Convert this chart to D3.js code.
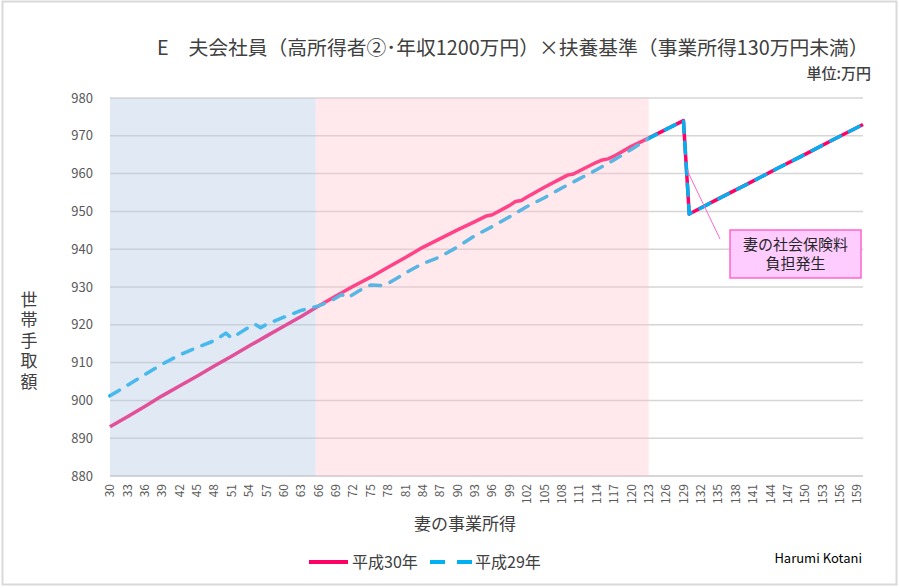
<!DOCTYPE html>
<html>
<head>
<meta charset="utf-8">
<script src="https://cdn.jsdelivr.net/npm/d3@7"></script>
<style>
  body { margin: 0; background: #fff; }
  text { font-family: "Noto Sans CJK JP", "Noto Sans", sans-serif; }
</style>
</head>
<body>
<svg id="chart"></svg>
<script>
// 妻の事業所得 (万円) and 世帯手取額 (万円)
const h30Income = [30, 33, 36, 39, 42, 45, 48, 51, 54, 57, 60, 63, 66, 69, 72, 75, 78, 81, 84,
  87, 90, 93, 95, 96, 99, 100, 101, 102, 105, 108, 109, 110, 111, 114, 115, 116, 117, 120, 123,
  126, 129, 130, 135, 140, 145, 150, 155, 160];
const h30Net = [893.0, 895.7, 898.4, 901.2, 903.8, 906.4, 909.1, 911.7, 914.4, 917.0, 919.6, 922.2,
  925.0, 927.6, 930.2, 932.6, 935.2, 937.8, 940.5, 942.8, 945.1, 947.3, 948.8, 949.1, 951.6,
  952.6, 952.9, 953.8, 956.4, 958.8, 959.6, 959.9, 960.7, 963.0, 963.6, 963.9, 964.6, 967.2,
  969.4, 971.7, 974.0, 949.3, 953.3, 957.2, 961.2, 965.1, 969.1, 973.0];

const h29Income = [30, 33, 36, 39, 42, 45, 48, 50, 51, 54, 55, 56, 57, 60, 63, 66, 68, 70, 71,
  73, 75, 77, 78, 81, 84, 87, 90, 93, 96, 99, 102, 105, 108, 111, 114, 117, 120, 123, 126, 129,
  130, 135, 140, 145, 150, 155, 160];
const h29Net = [901.2, 904.0, 906.8, 909.6, 912.0, 914.0, 915.8, 917.8, 916.5, 919.4, 920.2, 919.2,
  920.1, 922.0, 923.8, 925.0, 926.2, 928.0, 927.1, 929.0, 930.5, 930.4, 930.9, 933.7, 936.2,
  938.0, 940.6, 943.6, 946.0, 948.6, 951.3, 953.6, 956.2, 958.6, 961.0, 963.6, 966.4, 969.3,
  971.7, 974.0, 949.3, 953.3, 957.2, 961.2, 965.1, 969.1, 973.0];

const xTicks = [30, 33, 36, 39, 42, 45, 48, 51, 54, 57, 60, 63, 66, 69, 72, 75, 78, 81, 84, 87,
  90, 93, 96, 99, 102, 105, 108, 111, 114, 117, 120, 123, 126, 129, 132, 135, 138, 141, 144,
  147, 150, 153, 156, 159];
const yTicks = [880, 890, 900, 910, 920, 930, 940, 950, 960, 970, 980];

// shaded bands on the income axis
const bandStart = [30, 65.5];
const bandEnd = [65.5, 123];
const bandColor = ["#B4C7E7", "#FFC0C8"];
const bandOpacity = [0.4, 0.35];

const seriesNames = ["平成30年", "平成29年"];
const seriesColors = ["#FF0066", "#00B0F0"];

const width = 900;
const height = 588;
const plot = { left: 110, right: 863, top: 98, bottom: 476 };

const svg = d3.select("#chart").attr("width", width).attr("height", height);

// Outer frame
svg.append("rect")
  .attr("x", 2.5).attr("y", 1.5)
  .attr("width", 894).attr("height", 583)
  .attr("fill", "#fff")
  .attr("stroke", "#D9D9D9")
  .attr("stroke-width", 2);

const x = d3.scaleLinear().domain([30, 160]).range([plot.left, plot.right]);
const y = d3.scaleLinear().domain([880, 980]).range([plot.bottom, plot.top]);

// Gridlines
svg.append("g")
  .selectAll("line")
  .data(yTicks)
  .join("line")
  .attr("x1", plot.left)
  .attr("x2", plot.right)
  .attr("y1", (d) => y(d))
  .attr("y2", (d) => y(d))
  .attr("stroke", (d) => (d === 880 ? "#C8C8C8" : "#D6D6D6"))
  .attr("stroke-width", 1.5);

// Y tick labels
svg.append("g")
  .selectAll("text")
  .data(yTicks)
  .join("text")
  .attr("x", 93)
  .attr("y", (d) => y(d))
  .attr("dy", "0.35em")
  .attr("text-anchor", "end")
  .attr("font-size", 13)
  .attr("fill", "#595959")
  .text((d) => d);

// X tick labels, rotated
svg.append("g")
  .selectAll("text")
  .data(xTicks)
  .join("text")
  .attr("transform", (d) => `translate(${x(d)},484) rotate(-90)`)
  .attr("dy", "0.35em")
  .attr("text-anchor", "end")
  .attr("font-size", 12)
  .attr("fill", "#595959")
  .text((d) => d);

// Lines
const line = d3.line().x((d) => x(d[0])).y((d) => y(d[1]));

svg.append("path")
  .datum(h30Income.map((v, i) => [v, h30Net[i]]))
  .attr("d", line)
  .attr("fill", "none")
  .attr("stroke", seriesColors[0])
  .attr("stroke-width", 3.5)
  .attr("stroke-linejoin", "round");

svg.append("path")
  .datum(h29Income.map((v, i) => [v, h29Net[i]]))
  .attr("d", line)
  .attr("fill", "none")
  .attr("stroke", seriesColors[1])
  .attr("stroke-width", 3.5)
  .attr("stroke-dasharray", "11,10")
  .attr("stroke-linecap", "round")
  .attr("stroke-linejoin", "round");

// Shaded bands lie over the lines (semi transparent)
svg.append("g")
  .selectAll("rect")
  .data(bandStart)
  .join("rect")
  .attr("x", (d) => x(d))
  .attr("y", plot.top)
  .attr("width", (d, i) => x(bandEnd[i]) - x(d))
  .attr("height", plot.bottom - plot.top)
  .attr("fill", (d, i) => bandColor[i])
  .attr("opacity", (d, i) => bandOpacity[i]);

// Title
svg.append("text")
  .attr("x", 157)
  .attr("y", 55)
  .attr("font-size", 19.8)
  .attr("fill", "#404040")
  .text("E　夫会社員（高所得者②･年収1200万円）×扶養基準（事業所得130万円未満）");

svg.append("text")
  .attr("x", 871)
  .attr("y", 79)
  .attr("text-anchor", "end")
  .attr("font-size", 15)
  .attr("font-weight", 500)
  .attr("fill", "#404040")
  .text("単位:万円");

// Axis titles
svg.append("text")
  .attr("x", 465)
  .attr("y", 530)
  .attr("text-anchor", "middle")
  .attr("font-size", 17)
  .attr("fill", "#404040")
  .text("妻の事業所得");

svg.append("text")
  .attr("x", 29)
  .attr("y", 291)
  .style("writing-mode", "vertical-rl")
  .style("letter-spacing", "3.5px")
  .attr("font-size", 17)
  .attr("fill", "#404040")
  .text("世帯手取額");

// Annotation
svg.append("line")
  .attr("x1", x(129.6)).attr("y1", y(961))
  .attr("x2", 720).attr("y2", 239)
  .attr("stroke", "#FF66CC")
  .attr("stroke-width", 1);

svg.append("rect")
  .attr("x", 730).attr("y", 230)
  .attr("width", 131).attr("height", 48)
  .attr("fill", "#FFCCFF")
  .attr("stroke", "#FF66CC")
  .attr("stroke-width", 1.5);

svg.append("text")
  .attr("x", 795.5)
  .attr("y", 250)
  .attr("text-anchor", "middle")
  .attr("font-size", 15)
  .attr("fill", "#262626")
  .text("妻の社会保険料");
svg.append("text")
  .attr("x", 795.5)
  .attr("y", 269)
  .attr("text-anchor", "middle")
  .attr("font-size", 15)
  .attr("fill", "#262626")
  .text("負担発生");

// Legend
const legend = svg.append("g").attr("font-size", 16).attr("fill", "#404040");
legend.append("line")
  .attr("x1", 309).attr("x2", 348).attr("y1", 562).attr("y2", 562)
  .attr("stroke", seriesColors[0]).attr("stroke-width", 4);
legend.append("text").attr("x", 352).attr("y", 568).text(seriesNames[0]);
legend.append("line")
  .attr("x1", 430).attr("x2", 472).attr("y1", 562).attr("y2", 562)
  .attr("stroke", seriesColors[1]).attr("stroke-width", 4)
  .attr("stroke-dasharray", "15,12");
legend.append("text").attr("x", 475).attr("y", 568).text(seriesNames[1]);

svg.append("text")
  .attr("x", 862)
  .attr("y", 563)
  .attr("text-anchor", "end")
  .attr("font-size", 13)
  .attr("fill", "#000")
  .text("Harumi Kotani");
</script>
</body>
</html>
